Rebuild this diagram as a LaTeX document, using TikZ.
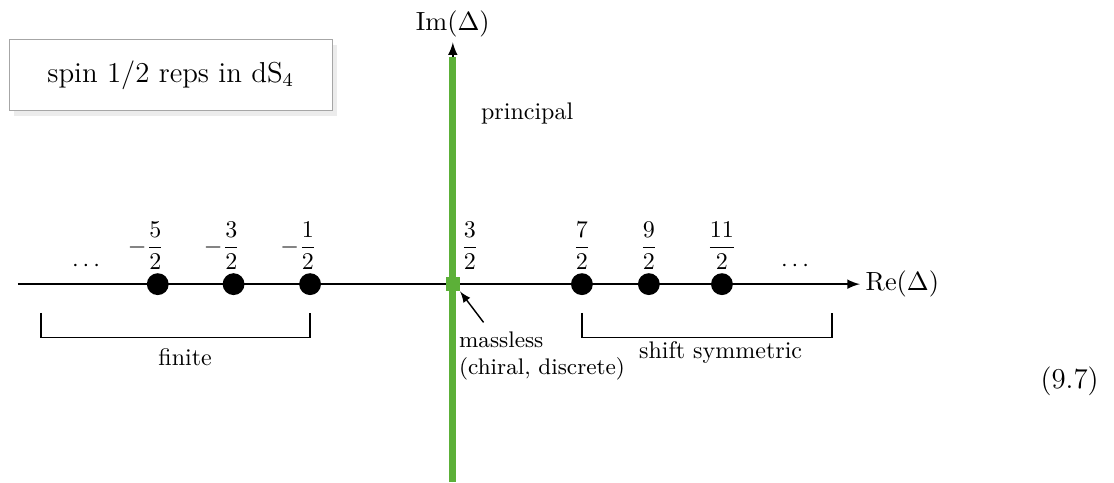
\documentclass[tikz,border=0pt]{standalone}
\usepackage{amsmath}
\usetikzlibrary{shadows}
\definecolor{prgreen}{RGB}{92,176,56}
\tikzset{
  dot/.style={circle, fill=black, inner sep=0pt, minimum size=0.32cm},
  mlsq/.style={fill=prgreen, inner sep=0pt, minimum size=0.2cm},
  brk/.style={line width=0.5pt},
}

\begin{document}
\begin{tikzpicture}[>=latex]
\useasboundingbox (-6.63,-2.90) rectangle (9.68,4.16);

\draw(-4.13,3.06) node[draw=black!35, fill=white, drop shadow={opacity=0.15}, minimum width=4.73cm, minimum height=1.04cm, font=\large] (title) {spin $1/2$ reps in dS$_4$};

\coordinate (west) at (-6.37,0);
\coordinate (east) at (5.96,0);
\coordinate (south) at (0,-2.90);
\coordinate (north) at (0,3.54);
\coordinate (gtop) at (0,3.32);

\draw[line width=0.8pt, ->] (west) -- (east) node[anchor=west, inner sep=2pt, font=\fontsize{10.6}{12}\selectfont] (re) {$\mathrm{Re}(\Delta)$};
\draw[line width=0.8pt, ->] (south) -- (north) node[anchor=south, inner sep=2pt, font=\fontsize{10.6}{12}\selectfont] (im) {$\mathrm{Im}(\Delta)$};
\draw[prgreen, line width=3pt] (south) -- (gtop);
\draw(0.29,2.50) node[anchor=west] (pr) {principal};

\draw(0,0) node[mlsq] (sq) {};
\draw(-4.32,0) node[dot] (m5) {};
\draw(-3.21,0) node[dot] (m3) {};
\draw(-2.09,0) node[dot] (m1) {};
\draw(1.89,0) node[dot] (p7) {};
\draw(2.87,0) node[dot] (p9) {};
\draw(3.94,0) node[dot] (p11) {};

\draw(-4.49,0.56) node (lm5) {$-\dfrac{5}{2}$};
\draw(-3.38,0.56) node (lm3) {$-\dfrac{3}{2}$};
\draw(-2.26,0.56) node (lm1) {$-\dfrac{1}{2}$};
\draw(0.25,0.56) node (lp3) {$\dfrac{3}{2}$};
\draw(1.89,0.56) node (lp7) {$\dfrac{7}{2}$};
\draw(2.87,0.56) node (lp9) {$\dfrac{9}{2}$};
\draw(3.94,0.56) node (lp11) {$\dfrac{11}{2}$};

\draw(-5.34,0.27) node (ldots) {$\cdots$};
\draw(5.04,0.27) node (rdots) {$\cdots$};

\draw[brk] (-6.03,-0.42) -- (-6.03,-0.78) -- (-2.09,-0.78) -- (-2.09,-0.42);
\draw(-3.92,-1.07) node (fin) {finite};
\draw[brk] (1.89,-0.42) -- (1.89,-0.78) -- (5.55,-0.78) -- (5.55,-0.42);
\draw(3.92,-1.00) node (sh) {shift symmetric};

\draw(0.05,-0.66) node[anchor=north west, align=left, inner sep=1pt, font=\fontsize{9.4}{11.2}\selectfont] (ml) {massless\\(chiral, discrete)};
\draw[line width=0.6pt, ->] (0.45,-0.56) -- (sq.south east);

\draw(9.03,-1.42) node[font=\large] (eq) {(9.7)};

\end{tikzpicture}
\end{document}
